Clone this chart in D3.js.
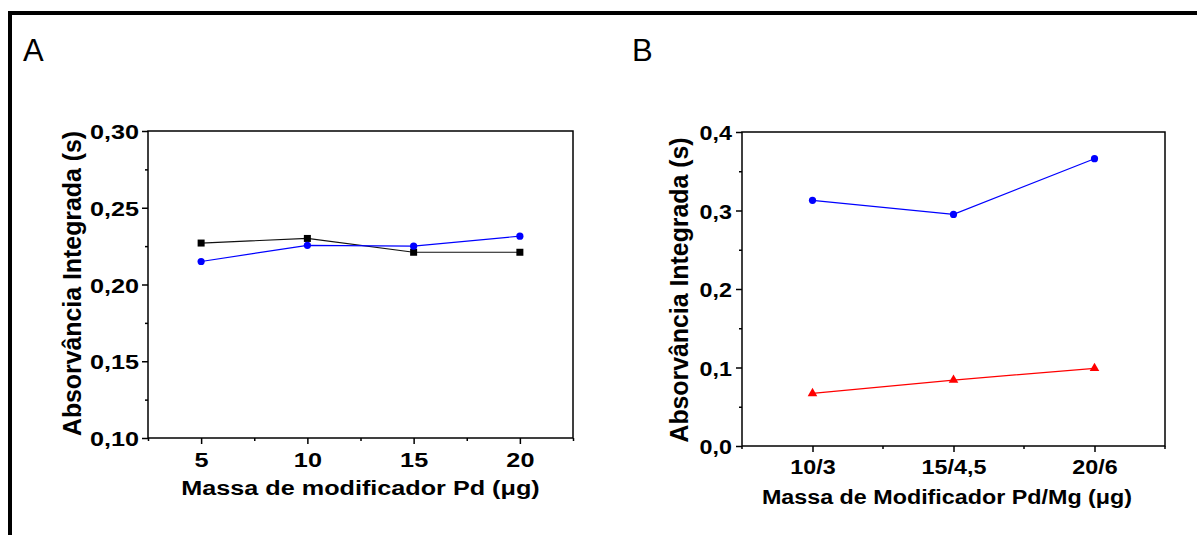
<!DOCTYPE html>
<html>
<head>
<meta charset="utf-8">
<script src="https://cdn.jsdelivr.net/npm/d3@7"></script>
<style>
  body { margin: 0; background: #fff; }
  svg { display: block; }
</style>
</head>
<body>
<div id="chart"></div>
<script>
// panel A: Pd modifier mass vs integrated absorbance
const massA = [5, 10, 15, 20];
const squaresA = [0.227, 0.230, 0.221, 0.221];
const circlesA = [0.215, 0.2255, 0.225, 0.2315];
const yTicksA = [0.10, 0.15, 0.20, 0.25, 0.30];
const yMinorA = [0.125, 0.175, 0.225, 0.275];
const xTicksA = [5, 10, 15, 20];
const xMinorA = [2.5, 7.5, 12.5, 17.5, 22.5];

// panel B: Pd/Mg modifier
const massB = ["10/3", "15/4,5", "20/6"];
const circlesB = [0.313, 0.295, 0.366];
const trianglesB = [0.067, 0.084, 0.099];
const yTicksB = [0.0, 0.1, 0.2, 0.3, 0.4];
const yMinorB = [0.05, 0.15, 0.25, 0.35];

const width = 1197, height = 535;
const font = "'Liberation Sans', Arial, sans-serif";
const comma = d3.formatLocale({decimal: ",", thousands: ".", grouping: [3], currency: ["", ""]});

let svg = d3.select("#chart").append("svg")
    .attr("width", width)
    .attr("height", height);

// outer border (top and left only)
svg.append("line").attr("x1", 8).attr("x2", width).attr("y1", 13).attr("y2", 13)
    .attr("stroke", "#000").attr("stroke-width", 4);
svg.append("line").attr("x1", 10).attr("x2", 10).attr("y1", 11).attr("y2", height)
    .attr("stroke", "#000").attr("stroke-width", 4);

// panel letters
svg.append("text").attr("x", 23).attr("y", 61).text("A")
    .attr("font-family", font).attr("font-size", 31);
svg.append("text").attr("x", 632).attr("y", 61).text("B")
    .attr("font-family", font).attr("font-size", 31);

function frame(g, box) {
    g.append("rect")
        .attr("x", box.left).attr("y", box.top)
        .attr("width", box.right - box.left).attr("height", box.bottom - box.top)
        .attr("fill", "none").attr("stroke", "#000").attr("stroke-width", 1.5);
}

function styleAxis(g) {
    g.select(".domain").remove();
    g.selectAll(".tick line").attr("stroke", "#000").attr("stroke-width", 1.5);
}

// ---------- Panel A ----------
const boxA = {left: 148, right: 573, top: 131, bottom: 438};
const sxA = 1.2;
let x = d3.scaleLinear().domain([2.5, 22.5]).range([boxA.left, boxA.right]);
let y = d3.scaleLinear().domain([0.10, 0.30]).range([boxA.bottom, boxA.top]);

let gA = svg.append("g");

gA.append("g").attr("transform", `translate(${boxA.left},0)`)
    .call(d3.axisLeft(y).tickValues(yMinorA).tickSize(3).tickFormat(""))
    .call(styleAxis);
gA.append("g").attr("transform", `translate(${boxA.left},0)`)
    .call(d3.axisLeft(y).tickValues(yTicksA).tickSize(6).tickFormat(comma.format(".2f")))
    .call(styleAxis)
    .call(g => g.selectAll("text")
        .attr("x", 0).attr("dy", "0.36em")
        .attr("transform", `translate(-9,0) scale(${sxA},1)`)
        .attr("font-family", font).attr("font-size", 21).attr("font-weight", "bold").attr("fill", "#000"));

gA.append("g").attr("transform", `translate(0,${boxA.bottom})`)
    .call(d3.axisBottom(x).tickValues(xMinorA).tickSize(3).tickFormat(""))
    .call(styleAxis);
gA.append("g").attr("transform", `translate(0,${boxA.bottom})`)
    .call(d3.axisBottom(x).tickValues(xTicksA).tickSize(6).tickFormat(d3.format("d")))
    .call(styleAxis)
    .call(g => g.selectAll("text")
        .attr("y", 0).attr("dy", 0)
        .attr("transform", `translate(0,29) scale(${sxA},1)`)
        .attr("font-family", font).attr("font-size", 21).attr("font-weight", "bold").attr("fill", "#000"));

frame(gA, boxA);

gA.append("text")
    .attr("transform", `translate(${(boxA.left + boxA.right) / 2},495) scale(${sxA},1)`)
    .attr("text-anchor", "middle")
    .attr("font-family", font).attr("font-size", 21).attr("font-weight", "bold")
    .text("Massa de modificador Pd (μg)");
gA.append("text")
    .attr("transform", `translate(80.5,${(boxA.top + boxA.bottom) / 2 - 1}) rotate(-90) scale(1.13,1.2)`)
    .attr("text-anchor", "middle")
    .attr("font-family", font).attr("font-size", 22).attr("font-weight", "bold")
    .text("Absorvância Integrada (s)");

let lineA = d3.line().x((d, i) => x(massA[i])).y(d => y(d));

gA.append("path").datum(squaresA)
    .attr("d", lineA).attr("fill", "none").attr("stroke", "#111").attr("stroke-width", 1.2);
gA.selectAll(".sq").data(squaresA).join("rect")
    .attr("class", "sq")
    .attr("x", (d, i) => x(massA[i]) - 3.5).attr("y", d => y(d) - 3.5)
    .attr("width", 7).attr("height", 7).attr("fill", "#000");

gA.append("path").datum(circlesA)
    .attr("d", lineA).attr("fill", "none").attr("stroke", "#0000ff").attr("stroke-width", 1.2);
gA.selectAll(".ci").data(circlesA).join("circle")
    .attr("class", "ci")
    .attr("cx", (d, i) => x(massA[i])).attr("cy", d => y(d))
    .attr("r", 3.6).attr("fill", "#0000ff");

// ---------- Panel B ----------
const boxB = {left: 742, right: 1165, top: 132, bottom: 446};
const sxB = 1.11;
let xb = d3.scalePoint().domain(massB).range([boxB.left, boxB.right]).padding(0.5);
let yb = d3.scaleLinear().domain([0, 0.4]).range([boxB.bottom, boxB.top]);
let step = xb.step();
let xMinorB = massB.map(c => xb(c) - step / 2).concat([xb(massB[massB.length - 1]) + step / 2]);

let gB = svg.append("g");

gB.append("g").attr("transform", `translate(${boxB.left},0)`)
    .call(d3.axisLeft(yb).tickValues(yMinorB).tickSize(3).tickFormat(""))
    .call(styleAxis);
gB.append("g").attr("transform", `translate(${boxB.left},0)`)
    .call(d3.axisLeft(yb).tickValues(yTicksB).tickSize(6).tickFormat(comma.format(".1f")))
    .call(styleAxis)
    .call(g => g.selectAll("text")
        .attr("x", 0).attr("dy", "0.36em")
        .attr("transform", `translate(-10,0) scale(${sxB},1)`)
        .attr("font-family", font).attr("font-size", 21).attr("font-weight", "bold").attr("fill", "#000"));

// minor ticks between categories
gB.append("g").selectAll("line").data(xMinorB).join("line")
    .attr("x1", d => d).attr("x2", d => d)
    .attr("y1", boxB.bottom).attr("y2", boxB.bottom + 3)
    .attr("stroke", "#000").attr("stroke-width", 1.5);
gB.append("g").attr("transform", `translate(0,${boxB.bottom})`)
    .call(d3.axisBottom(xb).tickSize(6))
    .call(styleAxis)
    .call(g => g.selectAll("text")
        .attr("y", 0).attr("dy", 0)
        .attr("transform", `translate(0,28) scale(${sxB},1)`)
        .attr("font-family", font).attr("font-size", 21).attr("font-weight", "bold").attr("fill", "#000"));

frame(gB, boxB);

gB.append("text")
    .attr("transform", `translate(947,504) scale(${sxB},1)`)
    .attr("text-anchor", "middle")
    .attr("font-family", font).attr("font-size", 21).attr("font-weight", "bold")
    .text("Massa de Modificador Pd/Mg (μg)");
gB.append("text")
    .attr("transform", `translate(688,${(boxB.top + boxB.bottom) / 2 + 1}) rotate(-90) scale(1.13,1.2)`)
    .attr("text-anchor", "middle")
    .attr("font-family", font).attr("font-size", 22).attr("font-weight", "bold")
    .text("Absorvância Integrada (s)");

let lineB = d3.line().x((d, i) => xb(massB[i])).y(d => yb(d));

gB.append("path").datum(circlesB)
    .attr("d", lineB).attr("fill", "none").attr("stroke", "#0000ff").attr("stroke-width", 1.2);
gB.selectAll(".ci").data(circlesB).join("circle")
    .attr("class", "ci")
    .attr("cx", (d, i) => xb(massB[i])).attr("cy", d => yb(d))
    .attr("r", 3.6).attr("fill", "#0000ff");

gB.append("path").datum(trianglesB)
    .attr("d", lineB).attr("fill", "none").attr("stroke", "#ff0000").attr("stroke-width", 1.2);
gB.selectAll(".tr").data(trianglesB).join("path")
    .attr("class", "tr")
    .attr("transform", (d, i) => `translate(${xb(massB[i])},${yb(d)})`)
    .attr("d", d3.symbol(d3.symbolTriangle, 40))
    .attr("fill", "#ff0000");
</script>
</body>
</html>
